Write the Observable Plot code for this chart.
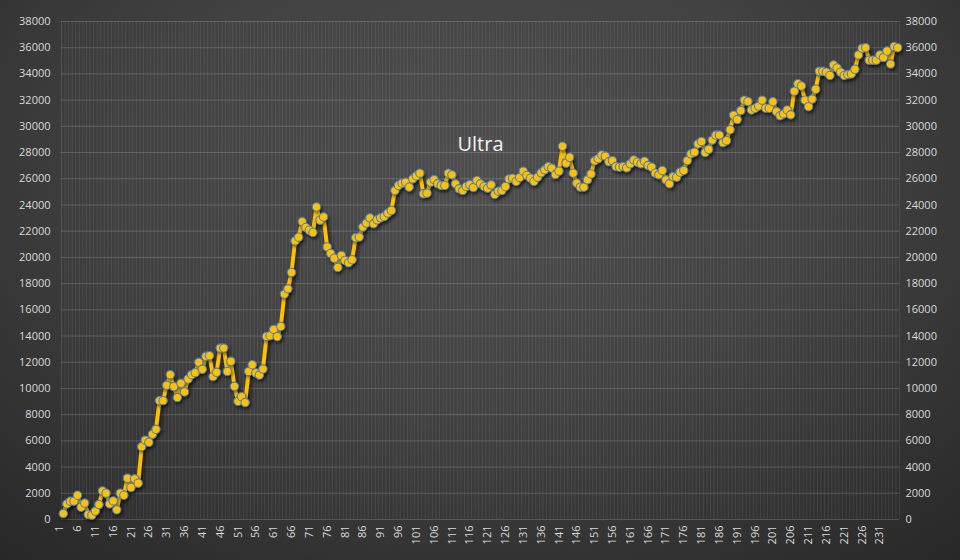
<!DOCTYPE html>
<html>
<head>
<meta charset="utf-8">
<script src="https://cdn.jsdelivr.net/npm/d3@7"></script>
<script src="https://cdn.jsdelivr.net/npm/@observablehq/plot@0.6"></script>
<style>
html, body { margin: 0; padding: 0; background: #2a2a2a; }
#chart {
  width: 960px; height: 560px; position: relative; overflow: hidden;
  background: radial-gradient(ellipse 80% 95% at 50% 30%, #4d4d4d 0%, #414141 45%, #303030 80%, #262626 100%);
}
#chart svg { display: block; background: transparent; }
g[aria-label="line"] { filter: drop-shadow(2px 3px 2px rgba(0,0,0,0.65)); }
g[aria-label="dot"] { filter: drop-shadow(1px 2px 1.5px rgba(0,0,0,0.45)); }
</style>
</head>
<body>
<div id="chart"></div>
<script>
const title = "Ultra";

const values = [
  450, 1190, 1400, 1400, 1850, 940, 1250, 380, 330, 640,
  1140, 2180, 2010, 1190, 1420, 740, 2010, 1850, 3150, 2440,
  3100, 2770, 5560, 6050, 5890, 6500, 6880, 9070, 9070, 10240,
  11050, 10140, 9300, 10390, 9730, 10720, 11050, 11200, 11990, 11460,
  12450, 12500, 10900, 11230, 13080, 13080, 11300, 12070, 10160, 9020,
  9370, 8920, 11300, 11810, 11180, 11020, 11480, 13970, 14020, 14500,
  13950, 14730, 17200, 17600, 18850, 21260, 21540, 22730, 22280, 22070,
  21900, 23850, 22840, 23090, 20800, 20300, 19940, 19230, 20150, 19770,
  19590, 19820, 21500, 21550, 22310, 22620, 23020, 22560, 22870, 23020,
  23120, 23380, 23580, 25100, 25490, 25660, 25740, 25360, 25990, 26220,
  26430, 24850, 24900, 25740, 25940, 25610, 25490, 25490, 26430, 26300,
  25610, 25230, 25100, 25410, 25560, 25330, 25870, 25610, 25410, 25280,
  25540, 24800, 25050, 25100, 25410, 25990, 26040, 25790, 26100, 26580,
  26250, 26040, 25790, 26120, 26450, 26680, 26930, 26810, 26320, 26580,
  28480, 27190, 27640, 26430, 25660, 25360, 25360, 25920, 26370, 27370,
  27530, 27820, 27730, 27290, 27390, 26930, 26880, 26930, 26830, 27140,
  27440, 27260, 27140, 27340, 27010, 26880, 26430, 26300, 26630, 25920,
  25610, 26170, 26120, 26500, 26630, 27390, 27900, 28030, 28660, 28850,
  28000, 28250, 28950, 29330, 29330, 28750, 28900, 29740, 30850, 30520,
  31200, 32000, 31900, 31250, 31380, 31550, 32000, 31380, 31380, 31880,
  31130, 30800, 30950, 31250, 30880, 32680, 33250, 33080, 32000, 31500,
  32080, 32830, 34200, 34200, 34130, 33880, 34680, 34450, 34130, 33880,
  33950, 34000, 34350, 35450, 35950, 36000, 35050, 35050, 35050, 35450,
  35250, 35750, 34750, 36100, 36000
];

const categories = values.map((_, i) => i + 1);
const xTickLabels = categories.filter((d, i) => i % 5 === 0);
const yTicks = [0, 2000, 4000, 6000, 8000, 10000, 12000, 14000, 16000, 18000,
  20000, 22000, 24000, 26000, 28000, 30000, 32000, 34000, 36000, 38000];

const data = categories.map((c, i) => ({cat: c, value: values[i]}));

const W = 960, H = 560, ML = 61, MR = 61, MT = 21, MB = 41;
const step = (W - ML - MR) / categories.length;

const labelColor = "#d9d9d9";

const marks = [
  Plot.ruleX(categories, {x: d => d, dx: step / 2, stroke: "#ffffff", strokeOpacity: 0.09}),
  Plot.ruleX([categories[0]], {x: d => d, dx: -step / 2, stroke: "#ffffff", strokeOpacity: 0.12}),
  Plot.ruleY(yTicks, {y: d => d, stroke: "#ffffff", strokeOpacity: 0.17}),
  Plot.text(yTicks, {y: d => d, frameAnchor: "left", textAnchor: "end", dx: -11, fill: labelColor, text: d => String(d)}),
  Plot.text(yTicks, {y: d => d, frameAnchor: "right", textAnchor: "start", dx: 6, fill: labelColor, text: d => String(d)}),
  Plot.text(xTickLabels, {x: d => d, frameAnchor: "bottom", rotate: -90, textAnchor: "end", dy: 6, fill: labelColor, text: d => String(d)}),
  Plot.line(data, {x: "cat", y: "value", stroke: "#FFC000", strokeWidth: 4, strokeLinejoin: "round"}),
  Plot.dot(data, {x: "cat", y: "value", r: 4.2, fill: "#FFC000", stroke: "#4a7fc1", strokeWidth: 1.1}),
  Plot.text([title], {frameAnchor: "top", dy: 123, lineAnchor: "middle", fontSize: 20, fill: "#f2f2f2", text: d => d})
];

const chart = Plot.plot({
  width: W, height: H,
  marginLeft: ML, marginRight: MR, marginTop: MT, marginBottom: MB,
  style: {background: "transparent", color: labelColor, fontFamily: "'Open Sans', sans-serif", fontSize: "11px"},
  x: {type: "point", domain: categories, padding: 0.5, axis: null},
  y: {domain: [0, 38000], axis: null},
  marks
});

document.getElementById("chart").appendChild(chart);
</script>
</body>
</html>
